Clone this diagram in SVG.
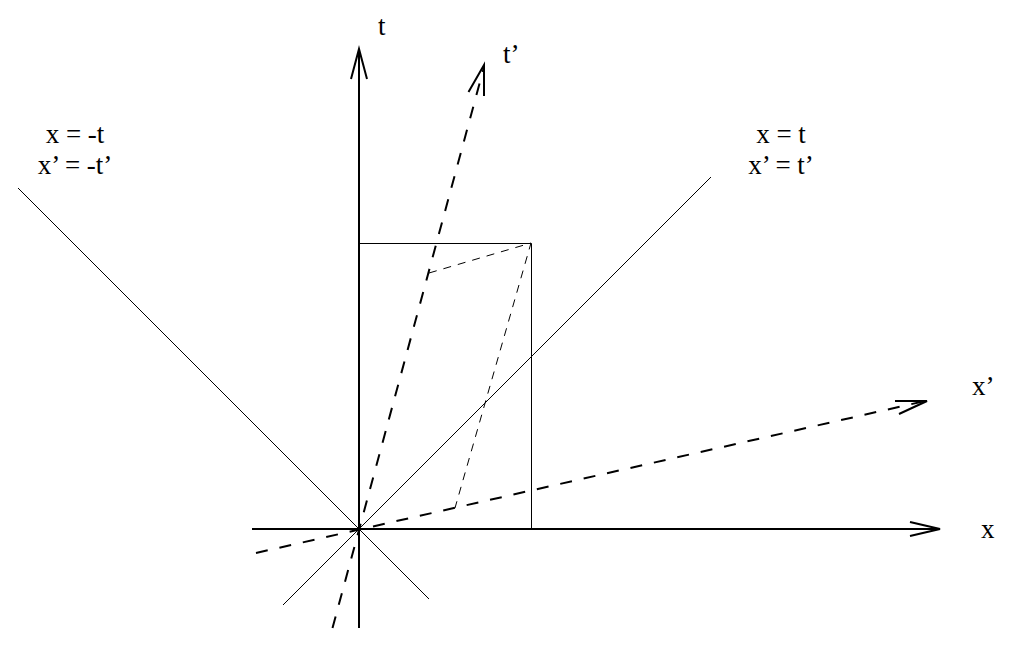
<svg xmlns="http://www.w3.org/2000/svg" width="1012" height="647" viewBox="0 0 1012 647">
<style>
.ax{stroke:#000;stroke-width:2;fill:none}
.th{stroke:#000;stroke-width:1;fill:none}
.dk{stroke:#000;stroke-width:2;fill:none;stroke-dasharray:12 12}
.dt{stroke:#000;stroke-width:1;fill:none;stroke-dasharray:8 7}
.lb{font-family:"Liberation Serif","Times New Roman",serif;font-size:27px;fill:#000}
</style>
<rect width="1012" height="647" fill="#fff"/>
<g id="connectors">
<g id="light-cone">
<line class="th" x1="18" y1="188" x2="429" y2="599"/>
<line class="th" x1="283" y1="605" x2="711" y2="177"/>
</g>
<g id="t-axis">
<line class="ax" x1="359" y1="628" x2="359" y2="50"/>
<polyline class="ax" points="351,79 359,49 367,79"/>
</g>
<g id="x-axis">
<line class="ax" x1="252" y1="529" x2="938" y2="529"/>
<polyline class="ax" points="910,522 940,529 910,536"/>
</g>
<g id="t-prime-axis">
<line class="dk" x1="332.5" y1="628" x2="484" y2="67"/>
<polyline class="ax" points="468.5,92 484,65 484,96"/>
</g>
<g id="x-prime-axis">
<line class="dk" x1="256" y1="553" x2="925" y2="401"/>
<polyline class="ax" points="895,401 927,401 899,414"/>
</g>
<g id="box">
<polyline class="th" points="359,243.5 531.5,243.5 531.5,529"/>
</g>
<g id="parallelogram">
<polyline class="dt" points="429,273 531,243 455,508"/>
</g>
</g>
<g id="labels">
<g id="label-t"><text class="lb" x="378" y="35">t</text></g>
<g id="label-tp"><text class="lb" x="503" y="63">t’</text></g>
<g id="label-xp"><text class="lb" x="972" y="395">x’</text></g>
<g id="label-x"><text class="lb" x="981" y="538">x</text></g>
<g id="label-neg">
<text class="lb" x="75" y="143" text-anchor="middle">x = -t</text>
<text class="lb" x="75" y="174" text-anchor="middle">x’ = -t’</text>
</g>
<g id="label-pos">
<text class="lb" x="781" y="143" text-anchor="middle">x = t</text>
<text class="lb" x="781" y="174" text-anchor="middle">x’ = t’</text>
</g>
</g>
</svg>
